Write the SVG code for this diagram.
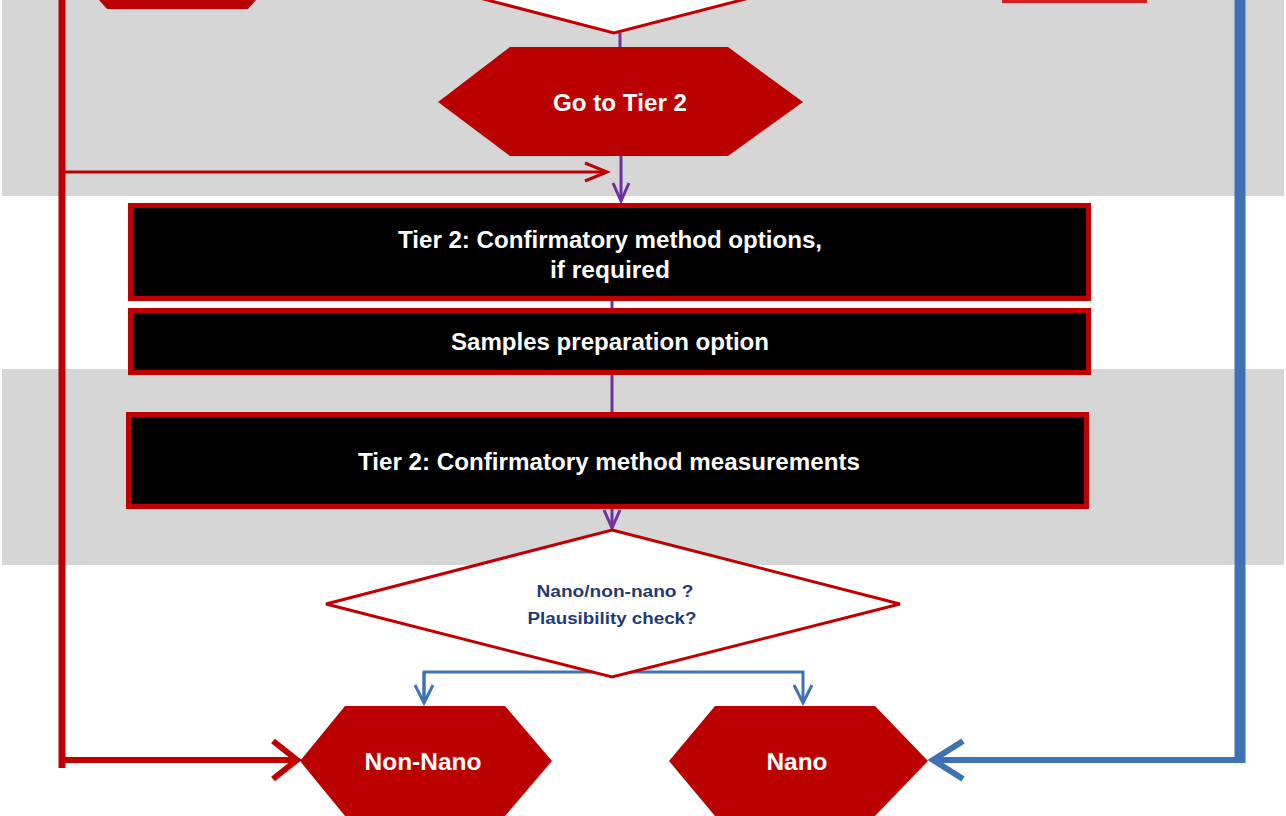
<svg xmlns="http://www.w3.org/2000/svg" width="1286" height="816" viewBox="0 0 1286 816">
<style>
.band{fill:#d6d6d6}
.hex{fill:#bb0000}
.box{fill:#000;stroke:#c00000;stroke-width:5}
.dia{fill:#fff;stroke:#c00000;stroke-width:3}
.wt{font-family:"Liberation Sans",Arial,sans-serif;font-weight:bold;fill:#fff;text-anchor:middle}
.bt{font-family:"Liberation Sans",Arial,sans-serif;font-weight:bold;fill:#1f3b73;text-anchor:middle;font-size:16px}
.pur{stroke:#7030a0;stroke-width:3;fill:none}
.red{stroke:#c00000;fill:none}
.blu{stroke:#3f72b5;fill:none}
</style>
<defs>
<marker id="mPur" markerUnits="userSpaceOnUse" markerWidth="30" markerHeight="30" refX="0" refY="0" orient="auto" overflow="visible"><path d="M-18,-8 L0,0 L-18,8" fill="none" stroke="#7030a0" stroke-width="3"/></marker>
<marker id="mRedS" markerUnits="userSpaceOnUse" markerWidth="30" markerHeight="30" refX="0" refY="0" orient="auto" overflow="visible"><path d="M-22,-9 L0,0 L-22,9" fill="none" stroke="#c00000" stroke-width="3"/></marker>
<marker id="mRedB" markerUnits="userSpaceOnUse" markerWidth="40" markerHeight="50" refX="0" refY="0" orient="auto" overflow="visible"><path d="M-24,-19 L0,0 L-24,19" fill="none" stroke="#c00000" stroke-width="6"/></marker>
<marker id="mBluS" markerUnits="userSpaceOnUse" markerWidth="30" markerHeight="30" refX="0" refY="0" orient="auto" overflow="visible"><path d="M-18,-9 L0,0 L-18,9" fill="none" stroke="#3f72b5" stroke-width="3"/></marker>
<marker id="mBluB" markerUnits="userSpaceOnUse" markerWidth="40" markerHeight="50" refX="0" refY="0" orient="auto" overflow="visible"><path d="M-30,-19 L0,0 L-30,19" fill="none" stroke="#3f72b5" stroke-width="6"/></marker>
</defs>
<rect width="1286" height="816" fill="#fff"/>
<rect class="band" x="2" y="0" width="1282" height="196"/>
<rect class="band" x="2" y="369" width="1282" height="196"/>

<g id="connectors">
<path class="pur" d="M620,33 V48"/>
<path class="pur" d="M621,156 V201" marker-end="url(#mPur)"/>
<path class="pur" d="M612,301 V308"/>
<path class="pur" d="M612,375 V412"/>
<path class="pur" d="M612,509 V528" marker-end="url(#mPur)"/>
<path class="red" stroke-width="3" d="M62,172 H607" marker-end="url(#mRedS)"/>
<path class="red" stroke-width="7" d="M62,0 V768"/>
<path class="red" stroke-width="6" d="M62,760 H297" marker-end="url(#mRedB)"/>
<path class="blu" stroke-width="11" d="M1240,0 V763"/>
<path class="blu" stroke-width="6" d="M1244,760 H933" marker-end="url(#mBluB)"/>
<path class="blu" stroke-width="3" d="M424,703 V672 H803 V703" marker-end="url(#mBluS)"/>
<path class="blu" stroke-width="3" d="M424,672 V703" marker-end="url(#mBluS)"/>
</g>

<g id="top-left-partial"><polygon class="hex" points="99,0 256,0 248,9 107,9"/></g>
<g id="top-right-partial"><rect x="1002" y="0" width="145" height="3" fill="#d42020"/></g>
<g id="top-decision"><polygon class="dia" points="472,-4 614,33 757,-4"/></g>

<g id="go-tier2">
<polygon class="hex" points="438,102 510,47 728,47 803,102 728,156 510,156"/>
<text class="wt" x="620" y="111" font-size="23" textLength="134" lengthAdjust="spacingAndGlyphs">Go to Tier 2</text>
</g>

<g id="tier2-options">
<rect class="box" x="130.5" y="205.5" width="958" height="93"/>
<text class="wt" x="610" y="248" font-size="23" textLength="424" lengthAdjust="spacingAndGlyphs">Tier 2: Confirmatory method options,</text>
<text class="wt" x="610" y="278" font-size="23" textLength="120" lengthAdjust="spacingAndGlyphs">if required</text>
</g>

<g id="samples-prep">
<rect class="box" x="130.5" y="310.5" width="958" height="62"/>
<text class="wt" x="610" y="350" font-size="23" textLength="318" lengthAdjust="spacingAndGlyphs">Samples preparation option</text>
</g>

<g id="tier2-measurements">
<rect class="box" x="128.5" y="414.5" width="958" height="92"/>
<text class="wt" x="609" y="470" font-size="23" textLength="502" lengthAdjust="spacingAndGlyphs">Tier 2: Confirmatory method measurements</text>
</g>

<g id="decision">
<polygon class="dia" points="612,530 900,604 612,677 326,604"/>
<text class="bt" x="615" y="597" textLength="157" lengthAdjust="spacingAndGlyphs">Nano/non-nano ?</text>
<text class="bt" x="612" y="624" textLength="169" lengthAdjust="spacingAndGlyphs">Plausibility check?</text>
</g>

<g id="non-nano">
<polygon class="hex" points="300,761 345,706 505,706 552,761 505,816 345,816"/>
<text class="wt" x="423" y="770" font-size="23" textLength="117" lengthAdjust="spacingAndGlyphs">Non-Nano</text>
</g>

<g id="nano">
<polygon class="hex" points="669,761 715,706 875,706 928,761 875,816 715,816"/>
<text class="wt" x="797" y="770" font-size="23" textLength="61" lengthAdjust="spacingAndGlyphs">Nano</text>
</g>
</svg>
